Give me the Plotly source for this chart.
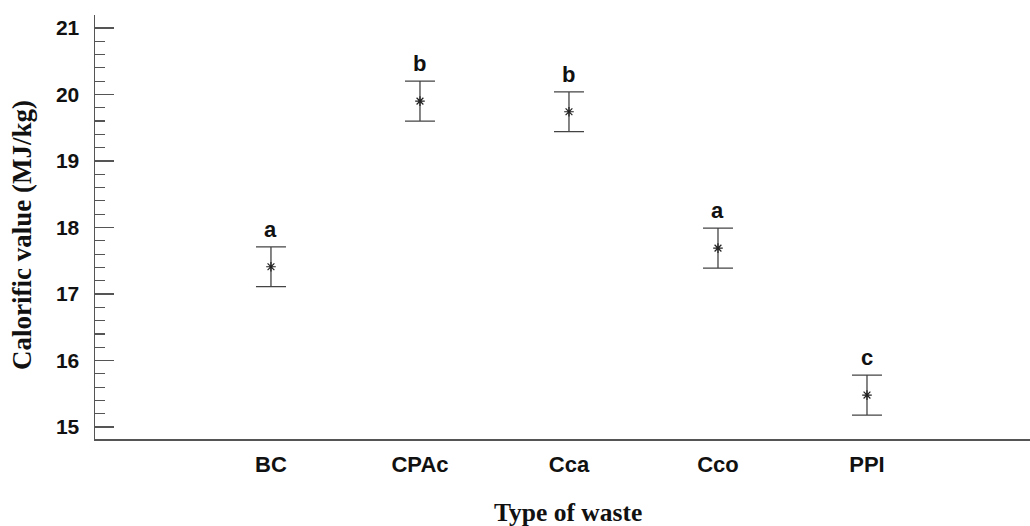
import plotly.graph_objects as go

categories = ["BC", "CPAc", "Cca", "Cco", "PPI"]
means = [17.41, 19.90, 19.74, 17.69, 15.48]
errors = [0.30, 0.30, 0.30, 0.30, 0.30]
letters = ["a", "b", "b", "a", "c"]
y_ticks = [15, 16, 17, 18, 19, 20, 21]

xpos = list(range(1, len(categories) + 1))

fig = go.Figure()
fig.add_trace(go.Scatter(
    x=xpos, y=means, mode="markers",
    marker=dict(symbol="asterisk-open", size=8, color="#222",
                line=dict(color="#222", width=1.2)),
    error_y=dict(type="data", array=errors, visible=True,
                 color="#444", thickness=1.3, width=15),
    showlegend=False, hoverinfo="skip",
))

annotations = [
    dict(x=x, y=m + e, xref="x", yref="y", text="<b>%s</b>" % t,
         showarrow=False, xanchor="center", yanchor="bottom", yshift=3,
         font=dict(family="Liberation Sans, Arial", size=22, color="#111"))
    for x, m, e, t in zip(xpos, means, errors, letters)
]
annotations += [
    dict(text="<b>Calorific value (MJ/kg)</b>", xref="paper", yref="paper",
         x=-73 / 935, y=(439 - 235) / 424, xanchor="center", yanchor="middle",
         textangle=-90, showarrow=False,
         font=dict(family="Liberation Serif, Times New Roman", size=27, color="#111")),
    dict(text="<b>Type of waste</b>", xref="paper", yref="paper",
         x=(568 - 95) / 935, y=-73 / 424, xanchor="center", yanchor="middle",
         showarrow=False,
         font=dict(family="Liberation Serif, Times New Roman", size=25.5, color="#111")),
]

fig.update_layout(
    width=1030, height=526,
    margin=dict(l=95, r=0, t=15, b=87),
    paper_bgcolor="white", plot_bgcolor="white",
    font=dict(family="Liberation Sans, Arial", color="#111"),
    hovermode=False,
    xaxis=dict(
        range=[-0.181, 6.094], tickmode="array", tickvals=xpos,
        ticktext=["<b>%s</b>" % c for c in categories],
        tickfont=dict(size=22, family="Liberation Sans, Arial", color="#111"),
        showgrid=False, zeroline=False, showline=True, automargin=False,
        linecolor="#555", linewidth=1.5, ticks="", ticklabelstandoff=5,
    ),
    yaxis=dict(
        range=[14.82, 21.195], tickmode="array", tickvals=y_ticks,
        ticktext=["<b>%d</b>" % v for v in y_ticks],
        tickfont=dict(size=21, family="Liberation Sans, Arial", color="#111"),
        showgrid=False, zeroline=False, showline=True, automargin=False,
        linecolor="#555", linewidth=1.5,
        ticks="inside", ticklen=19, tickwidth=1.3, tickcolor="#555",
        ticklabelstandoff=10,
        minor=dict(dtick=0.2, tick0=15, ticks="inside", ticklen=10,
                   tickwidth=1.2, tickcolor="#555", showgrid=False),
    ),
    annotations=annotations,
)

fig.write_html("out.html", config={"displayModeBar": False, "staticPlot": True},
               post_script="document.body.style.margin='0';")
